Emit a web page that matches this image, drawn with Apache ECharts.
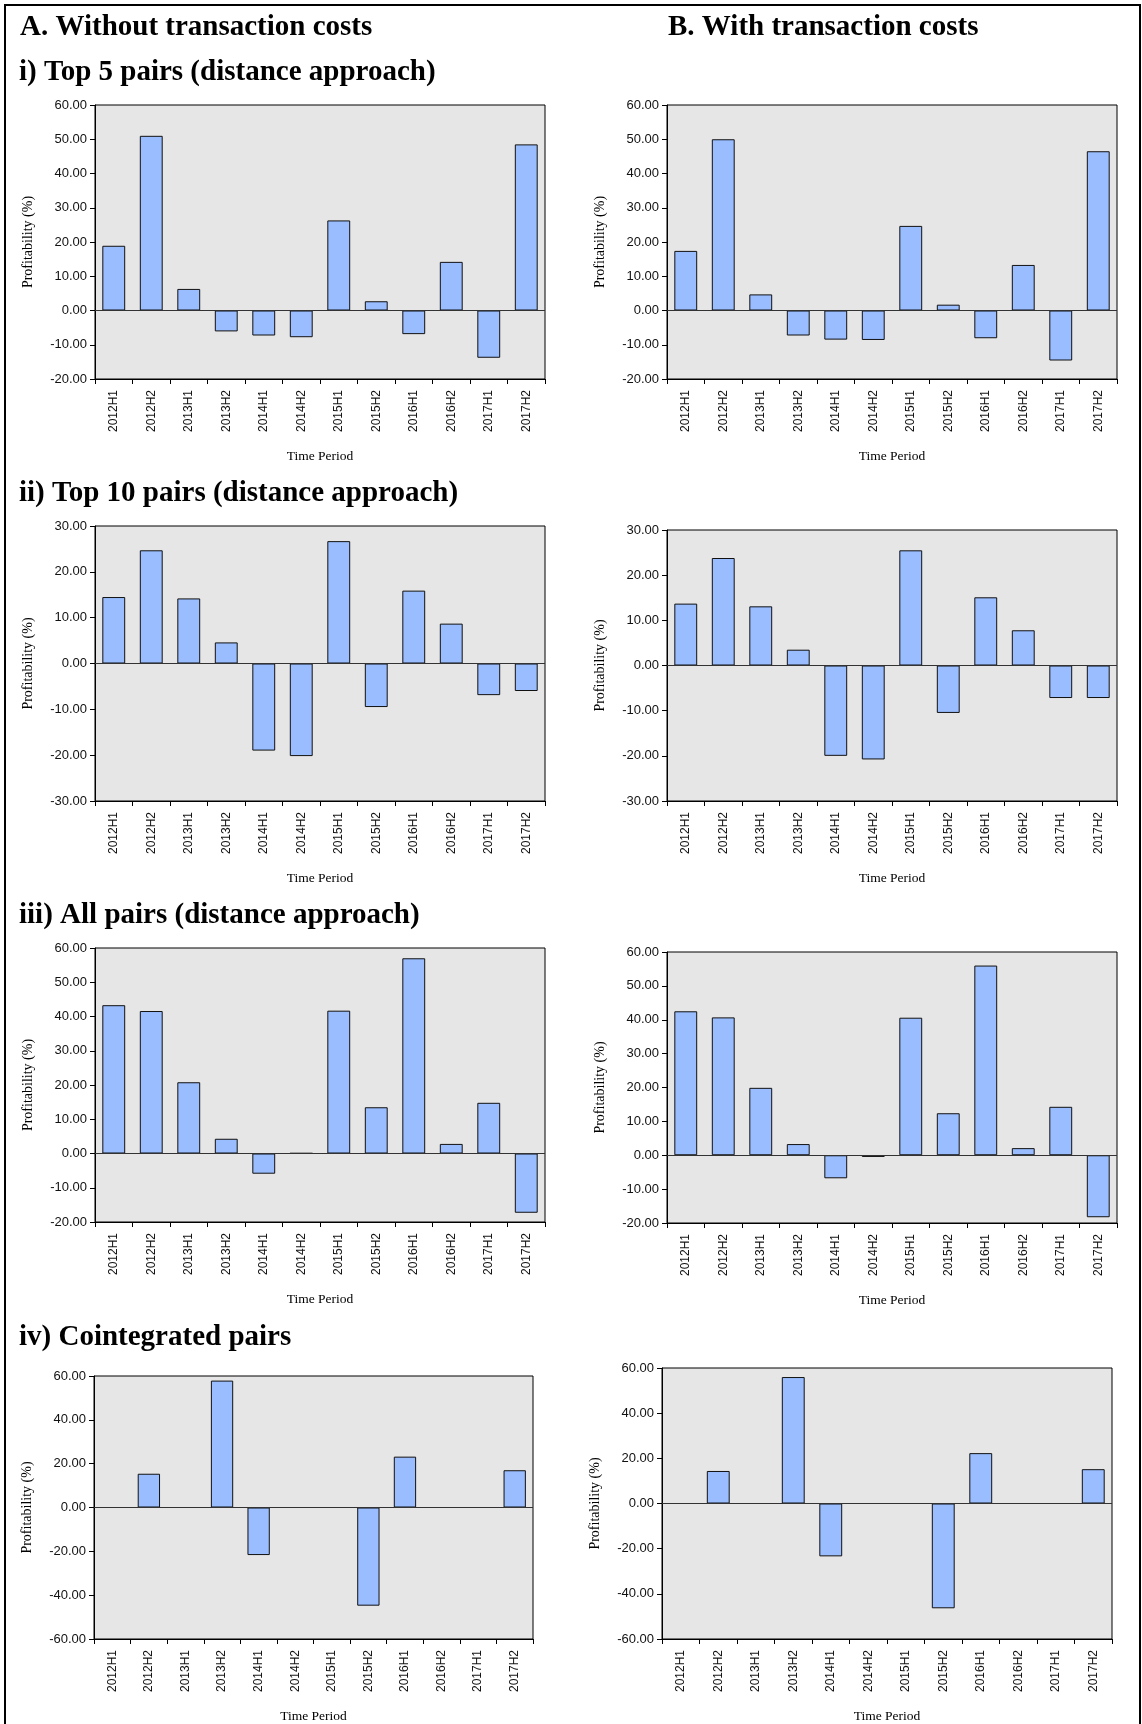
<!DOCTYPE html>
<html>
<head>
<meta charset="utf-8">
<script src="https://cdn.jsdelivr.net/npm/echarts@6/dist/echarts.min.js"></script>
<style>
html,body{margin:0;padding:0;background:#fff;}
#c{width:1142px;height:1724px;}
</style>
</head>
<body>
<div id="c"></div>
<script>
// ---- data ----
var categories = ['2012H1','2012H2','2013H1','2013H2','2014H1','2014H2','2015H1','2015H2','2016H1','2016H2','2017H1','2017H2'];

var top5NoCost   = [18.9, 51.0, 6.3, -6.1, -7.3, -7.8, 26.3, 2.7, -6.9, 14.2, -13.8, 48.5];
var top5Cost     = [17.4, 50.0, 4.7, -7.3, -8.5, -8.6, 24.7, 1.7, -8.1, 13.3, -14.6, 46.5];
var top10NoCost  = [14.5, 24.7, 14.2, 4.6, -19.0, -20.2, 26.7, -9.5, 15.9, 8.7, -6.9, -6.0];
var top10Cost    = [13.7, 23.8, 13.1, 3.5, -20.0, -20.8, 25.5, -10.5, 15.1, 7.8, -7.2, -7.2];
var allNoCost    = [43.3, 41.6, 20.8, 4.3, -5.9, 0.1, 41.7, 13.5, 57.0, 2.8, 14.8, -17.3];
var allCost      = [42.5, 40.7, 19.9, 3.3, -6.8, -0.5, 40.6, 12.4, 56.0, 2.1, 14.3, -18.3];
var cointNoCost  = [null, 15.4, null, 57.9, -21.7, null, null, -44.8, 23.2, null, null, 17.0];
var cointCost    = [null, 14.4, null, 56.0, -23.4, null, null, -46.4, 22.3, null, null, 15.2];

// y-axis tick ranges [min, max, step]
var rangeTop5  = [-20, 60, 10];
var rangeTop10 = [-30, 30, 10];
var rangeAll   = [-20, 60, 10];
var rangeCoint = [-60, 60, 20];

var panelTitles = ['A. Without transaction costs', 'B. With transaction costs'];
var rowTitles = ['i) Top 5 pairs (distance approach)', 'ii) Top 10 pairs (distance approach)', 'iii) All pairs (distance approach)', 'iv) Cointegrated pairs'];
var yName = 'Profitability (%)';
var xName = 'Time Period';

// ---- layout ----
var panels = [
  {data: top5NoCost,  range: rangeTop5,  grid: {left: 95,  top: 105,  width: 450, height: 274}},
  {data: top5Cost,    range: rangeTop5,  grid: {left: 667, top: 105,  width: 450, height: 274}},
  {data: top10NoCost, range: rangeTop10, grid: {left: 95,  top: 526,  width: 450, height: 275}},
  {data: top10Cost,   range: rangeTop10, grid: {left: 667, top: 530,  width: 450, height: 271}},
  {data: allNoCost,   range: rangeAll,   grid: {left: 95,  top: 948,  width: 450, height: 274}},
  {data: allCost,     range: rangeAll,   grid: {left: 667, top: 952,  width: 450, height: 271}},
  {data: cointNoCost, range: rangeCoint, grid: {left: 94,  top: 1376, width: 439, height: 266}},
  {data: cointCost,   range: rangeCoint, grid: {left: 662, top: 1368, width: 450, height: 272}}
];

var grids = [], xAxes = [], yAxes = [], series = [];
panels.forEach(function (p, i) {
  grids.push(Object.assign({
    show: true, backgroundColor: '#e6e6e6', borderColor: '#000', borderWidth: 1, containLabel: false
  }, p.grid));
  xAxes.push({
    type: 'category', gridIndex: i, data: categories, boundaryGap: true,
    axisLine: {show: true, onZero: false, lineStyle: {color: '#000', width: 1}},
    axisTick: {show: true, length: 5, lineStyle: {color: '#000'}},
    axisLabel: {rotate: 90, interval: 0, margin: 11, fontSize: 12, fontFamily: 'Liberation Sans', color: '#111'},
    splitLine: {show: false},
    name: xName, nameLocation: 'middle', nameGap: 70,
    nameTextStyle: {fontFamily: 'Liberation Serif', fontSize: 13.5, color: '#000'}
  });
  yAxes.push({
    type: 'value', gridIndex: i, min: p.range[0], max: p.range[1], interval: p.range[2],
    axisLine: {show: true, lineStyle: {color: '#000', width: 1}},
    axisTick: {show: true, length: 5, lineStyle: {color: '#000'}},
    axisLabel: {margin: 8, fontSize: 13, fontFamily: 'Liberation Sans', color: '#111',
      formatter: function (v) { return v.toFixed(2); }},
    splitLine: {show: false},
    name: yName, nameLocation: 'middle', nameGap: 60, nameRotate: 90,
    nameTextStyle: {fontFamily: 'Liberation Serif', fontSize: 14, color: '#000'}
  });
  series.push({
    type: 'bar', xAxisIndex: i, yAxisIndex: i, data: p.data,
    barCategoryGap: '39%',
    itemStyle: {color: '#99bdff', borderColor: '#111', borderWidth: 1},
    silent: true,
    markLine: {
      silent: true, symbol: 'none', label: {show: false},
      lineStyle: {color: '#333', width: 1.2, type: 'solid'},
      data: [{yAxis: 0}]
    }
  });
});

var titleFont = 'bold 29px "Liberation Serif", "Times New Roman", serif';
var graphics = [
  {type: 'rect', shape: {x: 5, y: 5, width: 1135, height: 1760}, style: {fill: 'none', stroke: '#000', lineWidth: 2}, silent: true},
  {type: 'text', x: 20, y: 28, style: {text: panelTitles[0], font: titleFont, fill: '#000', verticalAlign: 'middle'}},
  {type: 'text', x: 668, y: 28, style: {text: panelTitles[1], font: titleFont, fill: '#000', verticalAlign: 'middle'}},
  {type: 'text', x: 19, y: 73, style: {text: rowTitles[0], font: titleFont, fill: '#000', verticalAlign: 'middle'}},
  {type: 'text', x: 19, y: 494, style: {text: rowTitles[1], font: titleFont, fill: '#000', verticalAlign: 'middle'}},
  {type: 'text', x: 19, y: 916, style: {text: rowTitles[2], font: titleFont, fill: '#000', verticalAlign: 'middle'}},
  {type: 'text', x: 19, y: 1338, style: {text: rowTitles[3], font: titleFont, fill: '#000', verticalAlign: 'middle'}}
];

var chart = echarts.init(document.getElementById('c'), null, {renderer: 'canvas'});
chart.setOption({
  animation: false,
  backgroundColor: '#fff',
  grid: grids,
  xAxis: xAxes,
  yAxis: yAxes,
  series: series,
  graphic: graphics
});
</script>
</body>
</html>
